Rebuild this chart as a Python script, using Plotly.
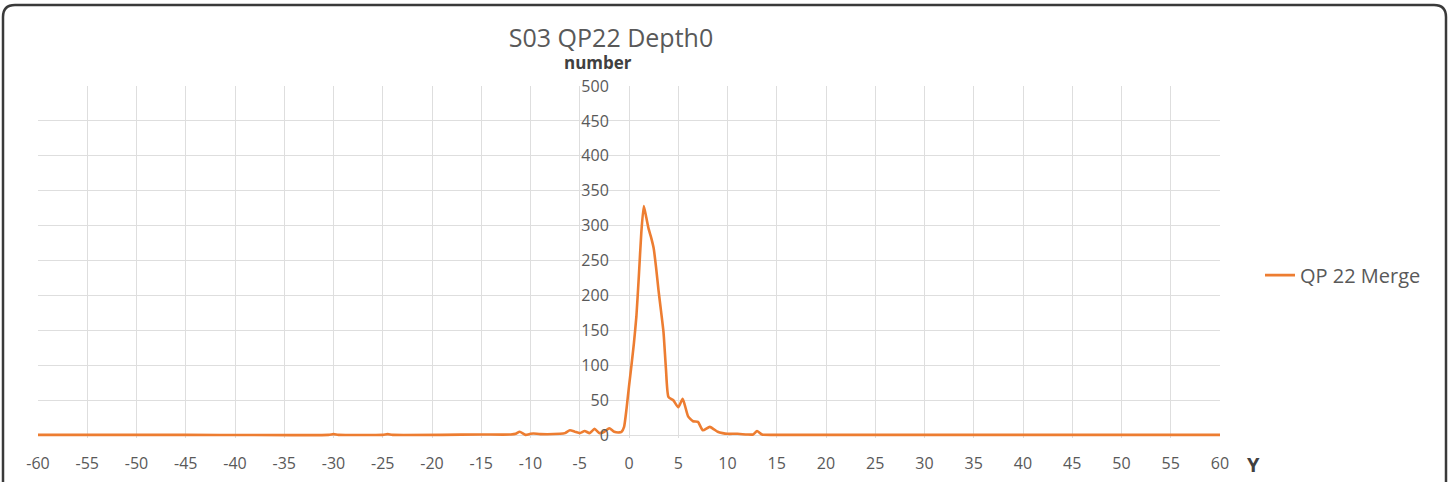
import plotly.graph_objects as go

# ---------------- data ----------------
x_vals = [-60, -45, -30.5, -30, -29.5, -25, -24.5, -24, -15, -12, -11.5, -11.1, -10.5,
          -10, -9.7, -9, -7, -6.5, -6, -5.5, -5, -4.5, -4, -3.5, -3, -2.5, -2, -1.5,
          -1, -0.75, -0.5, -0.25, 0, 0.25, 0.5, 0.75, 1.0, 1.25, 1.5, 1.75, 2.0, 2.25,
          2.5, 2.75, 3.0, 3.25, 3.5, 3.75, 4.0, 4.5, 5.0, 5.45, 6.0, 6.5, 7.0, 7.5,
          8.2, 9.0, 9.5, 10, 11, 12, 12.6, 13, 13.5, 15, 30, 45, 60]
counts = [0.5, 0.5, 0.5, 1.5, 0.5, 0.5, 1.5, 0.5, 1, 1, 2, 5, 0.5,
          2, 2.5, 1.5, 2, 3, 7, 5, 3, 6, 3, 9, 3, 5, 10, 5,
          4, 5, 12, 38, 70, 100, 132, 170, 228, 290, 328, 312, 295, 283,
          268, 240, 207, 178, 148, 95, 55, 50, 40, 52, 27, 20, 19, 7,
          12, 5, 3, 2, 2, 1, 1, 6, 1, 0.5, 0.5, 0.5, 0.5]

x_ticks = list(range(-60, 61, 5))
x_tick_labels = [str(v) for v in x_ticks]
y_ticks = list(range(0, 501, 50))
y_tick_labels = [str(v) for v in y_ticks]

title_text = "S03 QP22 Depth0"
y_title = "number"
x_title = "Y"
series_name = "QP 22 Merge"

# ---------------- geometry ----------------
W, H = 1452, 482
L, R = 38, 1220          # pixel x of x=-60 and x=60
TOP, ZERO = 86, 435      # pixel y of 500 and 0
Y_MIN, Y_MAX = -4, 500
scale = (ZERO - TOP) / 500.0
BOT = ZERO + (0 - Y_MIN) * scale   # pixel y of plot bottom


def px_x(px):
    return (px - L) / (R - L)


def px_y(py):
    return (BOT - py) / (BOT - TOP)


font = "Open Sans, Liberation Sans, sans-serif"
grid = "#dedede"
txt = "#595959"

fig = go.Figure()
fig.add_trace(go.Scatter(
    x=x_vals, y=counts, mode="lines", name=series_name,
    line=dict(color="#ED7D31", width=2.6, shape="spline", smoothing=0.5),
))

# rounded border
bx0, by0, bx1, by1, rr = 3, 5, 1446, 495, 12
path = (f"M {px_x(bx0 + rr)},{px_y(by0)} L {px_x(bx1 - rr)},{px_y(by0)} "
        f"Q {px_x(bx1)},{px_y(by0)} {px_x(bx1)},{px_y(by0 + rr)} "
        f"L {px_x(bx1)},{px_y(by1)} L {px_x(bx0)},{px_y(by1)} "
        f"L {px_x(bx0)},{px_y(by0 + rr)} "
        f"Q {px_x(bx0)},{px_y(by0)} {px_x(bx0 + rr)},{px_y(by0)} Z")

fig.update_layout(
    width=W, height=H,
    margin=dict(l=L, r=W - R, t=TOP, b=H - BOT, autoexpand=False),
    paper_bgcolor="white", plot_bgcolor="white",
    font=dict(family=font, color=txt),
    title=dict(text=title_text, x=611 / W, xanchor="center", y=1 - 38 / H,
               yanchor="middle", font=dict(size=25, color=txt, family=font)),
    xaxis=dict(range=[-60, 60], tickvals=x_ticks, ticktext=x_tick_labels,
               showgrid=True, gridcolor=grid, automargin=False,
               gridwidth=1, zeroline=False, showline=False, ticks="outside",
               ticklen=11, tickcolor="rgba(0,0,0,0)",
               tickfont=dict(size=16, color=txt, family=font)),
    yaxis=dict(range=[Y_MIN, Y_MAX], tickvals=y_ticks, ticktext=y_tick_labels,
               showgrid=True, gridcolor=grid, automargin=False,
               gridwidth=1, zeroline=False, showline=False, anchor="free",
               position=0.5, ticks="outside", ticklen=17,
               tickcolor="rgba(0,0,0,0)",
               tickfont=dict(size=16, color=txt, family=font)),
    showlegend=True,
    legend=dict(x=px_x(1260), xanchor="left", y=px_y(275), yanchor="middle",
                font=dict(size=20, color=txt, family=font),
                bgcolor="rgba(0,0,0,0)", borderwidth=0),
    annotations=[
        dict(text=f"<b>{y_title}</b>", xref="paper", yref="paper",
             x=px_x(598), y=px_y(63), xanchor="center", yanchor="middle",
             showarrow=False, font=dict(size=17, color="#404040", family=font)),
        dict(text=f"<b>{x_title}</b>", xref="paper", yref="paper",
             x=px_x(1253), y=px_y(464), xanchor="center", yanchor="middle",
             showarrow=False, font=dict(size=20, color="#404040", family=font)),
    ],
    shapes=[dict(type="path", path=path, xref="paper", yref="paper",
                 line=dict(color="#3a3a3a", width=2.5), layer="above")],
)

fig.write_html("out.html")
